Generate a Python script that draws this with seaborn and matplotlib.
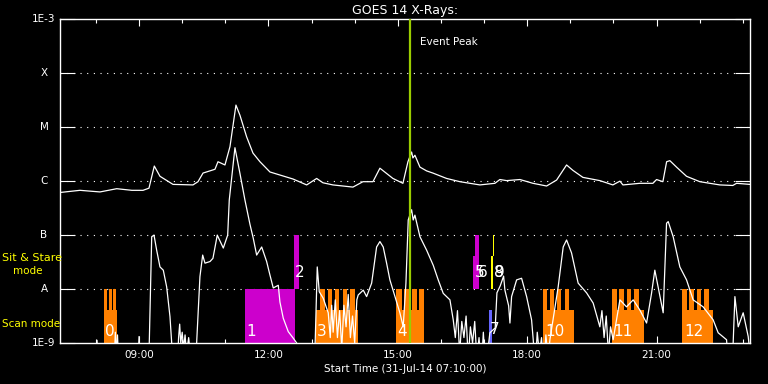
import numpy as np
import pandas as pd
import matplotlib
matplotlib.use("Agg")
import matplotlib.pyplot as plt
import matplotlib.transforms as mtransforms
from matplotlib.ticker import FixedLocator, NullLocator
import seaborn as sns

# ---------------- data (time = minutes after 31-Jul-14 07:10:00, flux = log10 W/m^2) ----------------
long_t = [0, 27.8, 55.6, 78.9, 100, 115.5, 123.8, 131.2, 139.1, 157.2, 185, 192, 199, 215.6, 219.8,
          229.5, 236.5, 244.8, 250.4, 259.7, 268.5, 278.2, 292.1, 324.1, 343.2, 357.1, 365.8, 379.7,
          407.6, 421.5, 435.4, 445.1, 463.2, 477.1, 484.1, 489.2, 491, 493.8, 500.8, 510.1, 518.8,
          537.9, 556.4, 584.2, 605.1, 612, 621.4, 639.9, 658, 677, 690.9, 704.8, 713.6, 727.5, 751.1,
          769.2, 779, 783.2, 806.8, 824.9, 830, 838.8, 844, 848.5, 857.8, 871.7, 890.2, 918, 936.1,
          941.3, 960]
long_logf = [-6.21, -6.17, -6.20, -6.14, -6.17, -6.17, -6.13, -5.72, -5.91, -6.06, -6.07, -6.01, -5.85,
             -5.78, -5.64, -5.70, -5.36, -4.59, -4.78, -5.18, -5.48, -5.64, -5.83, -5.96, -6.07, -5.95,
             -6.03, -6.07, -6.11, -6.01, -6.01, -5.76, -5.95, -6.04, -5.64, -5.46, -5.57, -5.52, -5.74,
             -5.81, -5.85, -5.95, -6.01, -6.07, -6.04, -5.97, -5.99, -5.97, -6.04, -6.09, -5.98, -5.70,
             -5.80, -5.93, -5.99, -6.07, -6.00, -6.07, -6.04, -6.04, -5.97, -6.01, -5.64, -5.62, -5.74,
             -5.91, -6.01, -6.07, -6.08, -6.04, -6.06]

short_t = [0, 49, 51.5, 54, 75, 77, 78, 80, 82, 108, 110, 112, 122, 124.2, 127.6, 130.8, 134.5, 139.1,
           143.7, 148.4, 153, 155.4, 157, 163, 165, 166.5, 168, 170, 172, 174, 176, 179, 182, 185, 188,
           190.1, 194.7, 198.5, 201.7, 208.7, 212.8, 218.8, 227.2, 233.3, 235.5, 243.4, 250.4, 257.3,
           264.3, 268.9, 273.6, 280.6, 287.5, 292.1, 296.7, 303.7, 306, 310.6, 317.6, 324.5, 329.3, 332,
           352, 355, 357.9, 360.7, 366.2, 373.2, 376, 378, 380, 383, 386, 389, 392, 395, 398, 401, 404,
           407, 410, 413, 414.9, 421.9, 426.6, 433.6, 440.5, 445.1, 449.7, 454.4, 459, 466, 472.9, 477.5,
           481.3, 484.5, 489.2, 491.4, 493.8, 500.8, 510.1, 519.3, 526.2, 533.2, 542.5, 547.1, 550, 553,
           556, 559, 562, 565, 568, 571, 574, 577, 580, 583, 586, 589, 592, 598.1, 605.5, 607.9, 612.5,
           617.2, 619, 624.2, 626, 628.3, 635.3, 642.2, 649.2, 656.1, 658.4, 661, 664, 667, 670, 673, 676,
           679, 681.6, 693.1, 700.1, 704.8, 711.7, 720.9, 732.6, 741.8, 751.1, 754, 757, 760, 763, 766,
           769.6, 779, 788.2, 797.5, 806.8, 816.1, 823, 827.6, 832.2, 839.2, 843.9, 846.2, 853.1, 862.4,
           871.7, 880.9, 894.8, 908.7, 915.7, 927.4, 930, 936, 939, 943.6, 950.5, 957.5, 960]
short_logf = [-9.5, -9.5, -8.95, -9.5, -9.5, -8.8, -9.2, -8.85, -9.5, -9.5, -8.88, -9.5, -9.5, -9.0, -7.03,
              -7.0, -7.28, -7.59, -7.65, -7.96, -8.51, -9.0, -9.5, -9.5, -8.9, -8.65, -9.0, -8.8, -9.1,
              -8.85, -9.2, -8.9, -9.3, -9.5, -9.5, -9.0, -7.77, -7.37, -7.52, -7.49, -7.43, -7.0, -7.24,
              -7.0, -6.35, -5.38, -5.86, -6.35, -6.80, -7.06, -7.37, -7.22, -7.49, -7.74, -7.98, -7.93,
              -8.24, -8.54, -8.79, -8.91, -9.0, -9.5, -9.5, -9.0, -7.59, -8.05, -8.17, -8.44, -8.9, -8.3,
              -8.8, -8.2, -8.9, -8.4, -9.1, -8.3, -8.7, -8.1, -8.9, -8.5, -9.0, -8.2, -8.11, -8.02, -8.14,
              -7.89, -7.22, -7.12, -7.22, -7.52, -7.83, -8.14, -8.44, -8.70, -7.89, -6.72, -6.53, -6.72,
              -6.63, -7.03, -7.28, -7.56, -7.83, -8.08, -8.20, -8.57, -8.9, -8.4, -9.2, -8.6, -8.9, -8.5,
              -9.3, -8.7, -9.0, -8.6, -9.3, -8.9, -9.5, -8.8, -9.5, -8.81, -8.72, -8.07, -7.94, -7.76,
              -8.02, -8.31, -8.63, -8.14, -7.83, -7.80, -8.14, -8.57, -8.94, -9.5, -8.8, -9.2, -8.9, -9.5,
              -8.85, -9.3, -8.94, -7.96, -7.22, -7.09, -7.33, -7.89, -8.07, -8.26, -8.70, -8.4, -8.9,
              -8.5, -9.2, -8.7, -8.94, -8.20, -8.33, -8.20, -8.39, -8.63, -8.08, -7.65, -7.96, -8.44,
              -6.78, -6.75, -7.03, -7.59, -7.83, -8.20, -8.33, -8.57, -8.81, -8.94, -9.5, -9.2, -8.14,
              -8.70, -8.44, -8.88, -9.2]

# scan-mode observations: base blocks and raster steps (start/end minutes, flux top)
scan_base_start = [61.2, 356.1, 467.4, 671.4, 767.8, 865.2]
scan_base_end = [78.9, 415.2, 506.3, 715.0, 812.3, 908.3]
scan_base_top = 4.1e-9
scan_step_start = [61.2, 68.2, 74.1, 361.7, 373.5, 383.2, 393.7, 403.4, 467.4, 478.5, 489.6, 499.4,
                   671.9, 681.6, 691.3, 702.5, 767.8, 777.6, 788.7, 798.4, 865.2, 875.0, 886.1, 895.8]
scan_step_end = [65.8, 71.9, 77.5, 368.6, 379.0, 388.1, 399.2, 411.1, 475.7, 485.5, 496.6, 506.3,
                 677.4, 687.2, 696.9, 708.0, 774.8, 784.5, 794.2, 805.4, 872.2, 881.9, 891.7, 902.8]
scan_step_top = 1e-8

# sit & stare and other observations
obs_start = [257.3, 325.5, 574.0, 577.3, 599.5, 602.2, 596.7]
obs_end = [326.9, 332.5, 577.3, 583.2, 602.7, 603.2, 600.5]
obs_low = [1e-9, 1e-8, 1e-8, 1e-8, 1e-8, 4.1e-8, 1e-9]
obs_high = [1e-8, 1e-7, 4.1e-8, 1e-7, 4.1e-8, 1e-7, 4.1e-9]
obs_color = ["#cc00cc", "#cc00cc", "#cc00cc", "#cc00cc", "#ffff00", "#ffff00", "#6666ff"]

obs_labels = ["0", "1", "2", "3", "4", "5", "6", "7", "8", "9", "10", "11", "12"]
obs_label_t = [62.6, 259.5, 326.9, 357.5, 468.8, 577.3, 581.5, 598.1, 603.7, 605.1, 674.6, 769.2, 868.0]
obs_label_f = [1.66e-9, 1.66e-9, 2.0e-8, 1.66e-9, 1.66e-9, 2.0e-8, 2.0e-8, 1.8e-9, 2.0e-8, 2.0e-8,
               1.66e-9, 1.66e-9, 1.66e-9]

event_peak_t = 487.0

level_names = ["1E-3", "X", "M", "C", "B", "A", "1E-9"]
level_values = [1e-3, 1e-4, 1e-5, 1e-6, 1e-7, 1e-8, 1e-9]
grid_values = [1e-4, 1e-5, 1e-6, 1e-7, 1e-8]

hour_major = [110, 290, 470, 650, 830]
hour_labels = ["09:00", "12:00", "15:00", "18:00", "21:00"]
hour_minor = [50, 170, 230, 350, 410, 530, 590, 710, 770, 890, 950]

# ---------------- plot ----------------
sns.set_theme(style="dark", rc={
    "figure.facecolor": "black", "axes.facecolor": "black", "savefig.facecolor": "black",
    "axes.edgecolor": "white", "text.color": "white", "axes.labelcolor": "white",
    "xtick.color": "white", "ytick.color": "white", "axes.grid": False,
})
plt.rcParams['font.family'] = ['DejaVu Sans']

fig = plt.figure(figsize=(7.68, 3.84), dpi=100)
ax = fig.add_axes([60 / 768, 1 - 343 / 384, 690 / 768, (343 - 19.3) / 384])
ax.set_yscale('log')
ax.set_xlim(0, 960)
ax.set_ylim(1e-9, 1e-3)

for lv in grid_values:
    ax.axhline(lv, color='white', lw=0.8, ls=(0, (1, 5)), zorder=1)

for s, e in zip(scan_base_start, scan_base_end):
    ax.bar(s, scan_base_top - 1e-9, width=e - s, bottom=1e-9, align='edge', color='#ff8000', lw=0, zorder=2)
for s, e in zip(scan_step_start, scan_step_end):
    ax.bar(s, scan_step_top - 1e-9, width=e - s, bottom=1e-9, align='edge', color='#ff8000', lw=0, zorder=2)
for s, e, lo, hi, c in zip(obs_start, obs_end, obs_low, obs_high, obs_color):
    ax.bar(s, hi - lo, width=e - s, bottom=lo, align='edge', color=c, lw=0, zorder=2)

long_df = pd.DataFrame({"t": long_t, "flux": 10 ** np.array(long_logf)})
short_df = pd.DataFrame({"t": short_t, "flux": 10 ** np.array(short_logf)})
sns.lineplot(data=long_df, x="t", y="flux", ax=ax, color="white", lw=0.9, estimator=None, zorder=4)
sns.lineplot(data=short_df, x="t", y="flux", ax=ax, color="white", lw=0.9, estimator=None, zorder=4)

ax.axvline(event_peak_t, color="#9acd00", lw=1.6, zorder=5)
ax.text(event_peak_t + 14, 10 ** -3.43, "Event Peak", color="white", fontsize=7.5, va="center", ha="left")

for lab, t, f in zip(obs_labels, obs_label_t, obs_label_f):
    ax.text(t, f, lab, color="white", fontsize=11, va="center", ha="left", zorder=6)

# axes styling
for sp in ax.spines.values():
    sp.set_color("white")
    sp.set_linewidth(1.0)
ax.yaxis.set_major_locator(FixedLocator(level_values))
ax.yaxis.set_minor_locator(NullLocator())
ax.tick_params(axis='y', which='major', direction='in', length=10.5, width=0.8,
               left=True, right=True, labelleft=False)
ax.xaxis.set_major_locator(FixedLocator(hour_major))
ax.xaxis.set_minor_locator(FixedLocator(hour_minor))
ax.set_xticklabels(hour_labels)
ax.tick_params(axis='x', which='major', direction='in', length=5, width=0.8, top=True, bottom=True,
               labelsize=7.5, pad=5)
ax.tick_params(axis='x', which='minor', direction='in', length=3, width=0.8, top=True, bottom=True)
ax.set_xlabel("Start Time (31-Jul-14 07:10:00)", fontsize=7.5, labelpad=3)
ax.set_ylabel("")
ax.set_title("GOES 14 X-Rays:", fontsize=9, pad=4, color="white")

ytrans = mtransforms.blended_transform_factory(fig.transFigure, ax.transData)
for name, lv in zip(level_names, level_values):
    ax.text(44 / 768, lv, name, transform=ytrans, ha="center", va="center", fontsize=7.5, color="white")

ax.text(2 / 768, 10 ** -7.43, "Sit & Stare", transform=ytrans, ha="left", va="center", fontsize=8,
        color="#ffff00", clip_on=False, zorder=7)
ax.text(13 / 768, 10 ** -7.67, "mode", transform=ytrans, ha="left", va="center", fontsize=7.5,
        color="#ffff00", clip_on=False)
ax.text(2 / 768, 10 ** -8.65, "Scan mode", transform=ytrans, ha="left", va="center", fontsize=7.5,
        color="#ffff00", clip_on=False)

fig.savefig("out.png", dpi=100, facecolor="black")
